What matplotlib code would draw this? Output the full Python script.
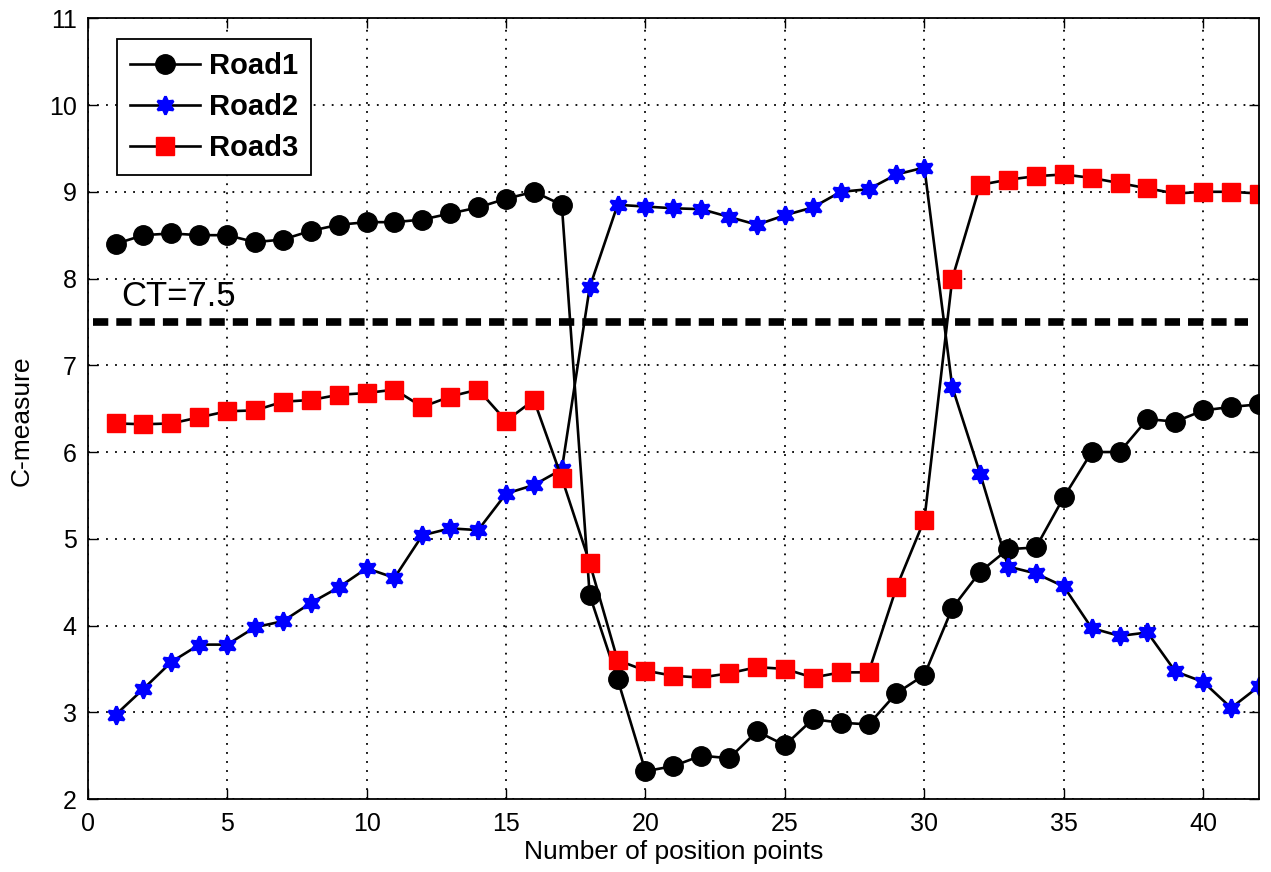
import numpy as np
import matplotlib.pyplot as plt

plt.rcParams["font.family"] = ["Liberation Sans", "DejaVu Sans"]

points = list(range(1, 43))

road1 = [
    8.40, 8.50, 8.52, 8.50, 8.50, 8.42, 8.45, 8.55, 8.62, 8.65,
    8.65, 8.68, 8.75, 8.82, 8.92, 9.00, 8.85, 4.35, 3.38, 2.32,
    2.38, 2.50, 2.47, 2.78, 2.62, 2.92, 2.88, 2.86, 3.22, 3.43,
    4.20, 4.62, 4.88, 4.90, 5.48, 6.00, 6.00, 6.38, 6.35, 6.48,
    6.52, 6.55,
]
road2 = [
    2.97, 3.27, 3.58, 3.78, 3.78, 3.98, 4.05, 4.26, 4.44, 4.66,
    4.55, 5.04, 5.12, 5.10, 5.52, 5.62, 5.80, 7.90, 8.85, 8.83,
    8.81, 8.80, 8.71, 8.62, 8.73, 8.82, 9.00, 9.03, 9.20, 9.28,
    6.75, 5.75, 4.68, 4.60, 4.45, 3.97, 3.88, 3.92, 3.47, 3.35,
    3.05, 3.30,
]
road3 = [
    6.33, 6.32, 6.33, 6.40, 6.47, 6.48, 6.58, 6.60, 6.66, 6.68,
    6.72, 6.52, 6.64, 6.72, 6.36, 6.60, 5.70, 4.72, 3.60, 3.48,
    3.42, 3.40, 3.45, 3.52, 3.50, 3.40, 3.46, 3.46, 4.44, 5.22,
    8.00, 9.08, 9.14, 9.18, 9.20, 9.16, 9.10, 9.04, 8.98, 9.00,
    9.00, 8.98,
]
threshold = 7.5

fig = plt.figure(figsize=(12.71, 8.72), dpi=100)
ax = fig.add_axes([0.069, 0.0837, 0.9216, 0.8953])

ax.plot(points, road1, color="black", lw=1.9, marker="o", ms=14,
        mfc="black", mec="black", label="Road1")
ax.plot(points, road2, color="black", lw=1.9, marker=(6, 1, 0), ms=13,
        mfc="blue", mec="blue", mew=2.0, label="Road2")
ax.plot(points, road3, color="black", lw=1.9, marker="s", ms=13,
        mfc="red", mec="red", label="Road3")

# threshold line
ax.plot([0.2, 41.6], [threshold, threshold], color="black", lw=5.5,
        ls=(0, (2.0, 1.05)))
ax.text(1.2, 7.6, "CT=7.5", fontsize=25, color="black", va="bottom")

ax.set_xlim(0, 42)
ax.set_ylim(2, 11)
ax.set_xticks(range(0, 41, 5))
ax.set_yticks(range(2, 12))
ax.tick_params(direction="in", top=True, right=True, labelsize=18,
               length=7, width=1)
ax.tick_params(axis="x", pad=9)
ax.tick_params(axis="y", pad=8)
ax.grid(True, color="black", ls=(0, (1, 4)), lw=1.3)
for s in ax.spines.values():
    s.set_linewidth(1.3)

ax.set_xlabel("Number of position points", fontsize=19, labelpad=3)
ax.set_ylabel("C-measure", fontsize=19)
ax.yaxis.set_label_coords(-0.046, 0.485)

leg = ax.legend(loc="upper left", prop={"weight": "bold", "size": 21},
                fancybox=False, framealpha=1, edgecolor="black",
                handlelength=2.4, handletextpad=0.3, borderpad=0.45,
                labelspacing=0.45, borderaxespad=0,
                bbox_to_anchor=(0.025, 0.974))
leg.get_frame().set_linewidth(1.3)

fig.savefig("out.png", dpi=100)
